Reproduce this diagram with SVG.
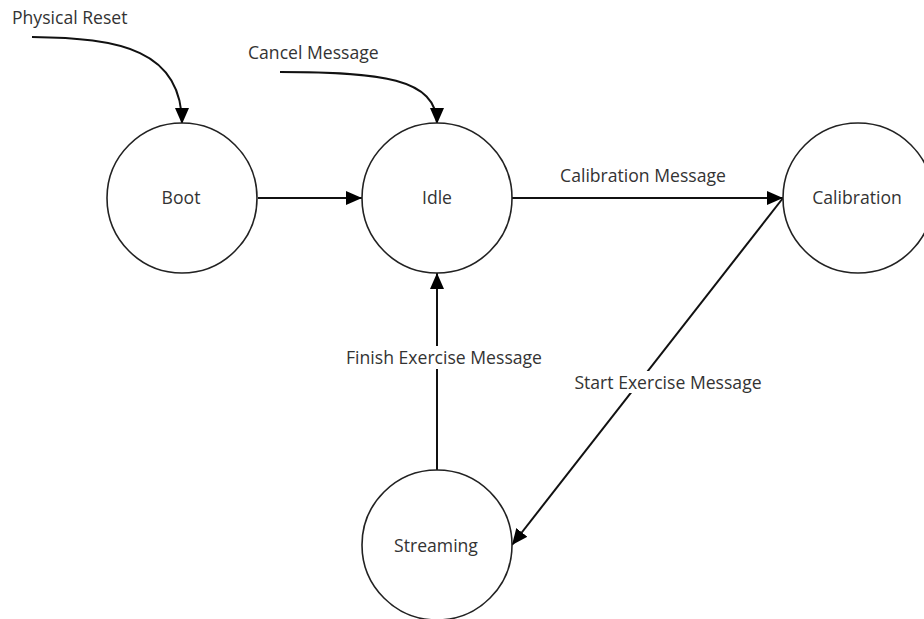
<svg xmlns="http://www.w3.org/2000/svg" width="924" height="619" viewBox="0 0 924 619">
  <style>
    .state { fill: #ffffff; stroke: #222222; stroke-width: 1.6; }
    .label { font-family: "Open Sans", "Liberation Sans", sans-serif; font-size: 17.6px; fill: #333333; }
    .name { text-anchor: middle; dominant-baseline: central; }
    .edge { fill: none; stroke: #111111; stroke-width: 2; marker-end: url(#arrow); }
  </style>
  <defs>
    <marker id="arrow" markerUnits="userSpaceOnUse" markerWidth="16" markerHeight="16" viewBox="0 0 16 16" refX="16" refY="8" orient="auto">
      <path d="M0,1 L16,8 L0,15 Z" fill="#000000"/>
    </marker>
  </defs>

  <rect width="924" height="619" fill="#ffffff"/>

  <!-- transitions -->
  <g id="connectors">
    <path class="edge" d="M32,37 C120,38 182,50 182,124"/>
    <path class="edge" d="M280,72 C380,72 437,78 437,124"/>
    <path class="edge" d="M258,198 L362,198"/>
    <path class="edge" d="M512,198 L783,198"/>
    <path class="edge" d="M783,198 L512,545"/>
    <path class="edge" d="M437,470 L437,273"/>
  </g>

  <!-- transition labels, each masking its own stretch of line -->
  <g id="edge-labels">
    <rect x="570" y="371" width="197" height="22" fill="#ffffff"/>
    <rect x="334" y="346" width="220" height="23" fill="#ffffff"/>
    <text class="label" x="12" y="24">Physical Reset</text>
    <text class="label" x="248" y="59">Cancel Message</text>
    <text class="label name" x="643" y="175">Calibration Message</text>
    <text class="label name" x="444" y="357">Finish Exercise Message</text>
    <text class="label name" x="668" y="382">Start Exercise Message</text>
  </g>

  <g id="boot">
    <circle class="state" cx="182" cy="198" r="75"/>
    <text class="label name" x="181" y="197">Boot</text>
  </g>
  <g id="idle">
    <circle class="state" cx="437" cy="198" r="75"/>
    <text class="label name" x="437" y="197">Idle</text>
  </g>
  <g id="calibration">
    <circle class="state" cx="858" cy="198" r="75"/>
    <text class="label name" x="857" y="197">Calibration</text>
  </g>
  <g id="streaming">
    <circle class="state" cx="437" cy="545" r="75"/>
    <text class="label name" x="436" y="545">Streaming</text>
  </g>
</svg>
